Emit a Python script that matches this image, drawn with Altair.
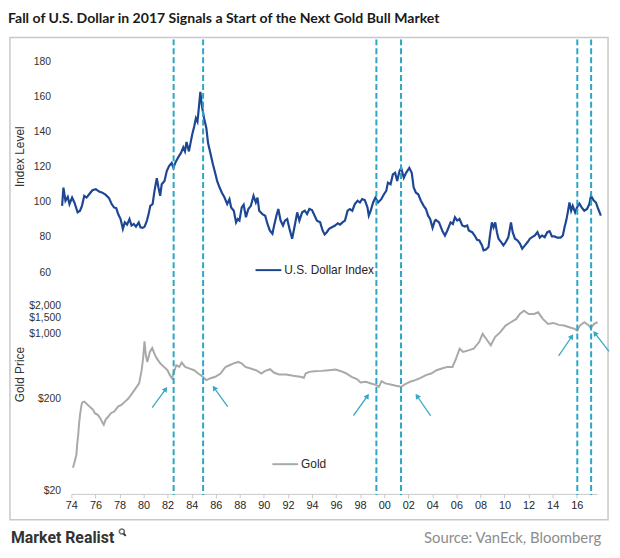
import altair as alt
import pandas as pd

# ---------------- data ----------------
dxy_year = [1973.23, 1973.34, 1973.51, 1973.70, 1973.84, 1974.06, 1974.25, 1974.52, 1974.72, 1974.88,
            1975.07, 1975.26, 1975.48, 1975.75, 1976.03, 1976.30, 1976.58, 1976.86, 1977.13, 1977.35,
            1977.54, 1977.73, 1977.89, 1978.09, 1978.28, 1978.44, 1978.63, 1978.83, 1979.00, 1979.19,
            1979.37, 1979.60, 1979.74, 1979.93, 1980.09, 1980.28, 1980.42, 1980.56, 1980.75, 1980.91,
            1981.10, 1981.24, 1981.38, 1981.51, 1981.74, 1981.93, 1982.12, 1982.34, 1982.48, 1982.67,
            1982.89, 1983.11, 1983.30, 1983.44, 1983.57, 1983.77, 1983.93, 1984.04, 1984.21, 1984.35,
            1984.48, 1984.59, 1984.72, 1984.86, 1985.03, 1985.22, 1985.36, 1985.58, 1985.77, 1985.91,
            1986.12, 1986.32, 1986.51, 1986.73, 1986.95, 1987.14, 1987.28, 1987.50, 1987.69, 1987.83,
            1987.97, 1988.16, 1988.32, 1988.51, 1988.71, 1988.92, 1989.14, 1989.33, 1989.47, 1989.61,
            1989.88, 1990.11, 1990.30, 1990.49, 1990.71, 1990.85, 1991.04, 1991.20, 1991.39, 1991.59,
            1991.75, 1991.94, 1992.13, 1992.35, 1992.54, 1992.77, 1992.95, 1993.18, 1993.40, 1993.59,
            1993.78, 1994.00, 1994.22, 1994.41, 1994.68, 1994.88, 1995.05, 1995.23, 1995.42, 1995.65,
            1995.92, 1996.14, 1996.33, 1996.53, 1996.74, 1996.96, 1997.15, 1997.35, 1997.56, 1997.79,
            1997.98, 1998.17, 1998.39, 1998.61, 1998.72, 1998.88, 1999.08, 1999.27, 1999.49, 1999.76,
            1999.98, 2000.17, 2000.31, 2000.53, 2000.72, 2000.91, 2001.08, 2001.27, 2001.41, 2001.63,
            2001.82, 2002.09, 2002.29, 2002.45, 2002.64, 2002.83, 2003.05, 2003.28, 2003.47, 2003.65,
            2003.82, 2004.02, 2004.21, 2004.29, 2004.56, 2004.84, 2005.05, 2005.25, 2005.52, 2005.71,
            2005.88, 2006.07, 2006.26, 2006.49, 2006.70, 2006.90, 2007.03, 2007.31, 2007.52, 2007.72,
            2007.91, 2008.13, 2008.26, 2008.46, 2008.67, 2008.81, 2008.95, 2009.09, 2009.23, 2009.37,
            2009.50, 2009.72, 2009.91, 2010.11, 2010.32, 2010.54, 2010.68, 2010.87, 2011.09, 2011.28,
            2011.47, 2011.70, 2011.92, 2012.11, 2012.30, 2012.52, 2012.74, 2012.93, 2013.12, 2013.34,
            2013.56, 2013.75, 2013.94, 2014.16, 2014.39, 2014.66, 2014.85, 2014.99, 2015.13, 2015.26,
            2015.40, 2015.54, 2015.67, 2015.87, 2016.03, 2016.22, 2016.41, 2016.63, 2016.86, 2017.05,
            2017.19, 2017.40, 2017.60, 2017.79, 2018.01]
dxy_value = [97.7, 108.1, 100.6, 102.8, 98.7, 102.4, 99.6, 94.0, 94.9, 97.7,
             103.4, 102.4, 104.3, 106.6, 107.2, 105.8, 105.2, 103.9, 102.1, 98.7,
             96.8, 96.4, 93.0, 90.2, 84.6, 88.3, 87.0, 90.2, 86.5, 87.4,
             85.9, 88.3, 85.5, 85.2, 85.9, 89.3, 93.0, 97.7, 98.7, 106.2,
             113.4, 108.1, 103.4, 110.0, 111.8, 117.5, 120.3, 122.1, 119.3, 122.7,
             125.4, 127.8, 131.0, 128.7, 134.0, 128.7, 134.4, 138.1, 142.8, 147.5,
             145.6, 153.1, 162.5, 154.1, 147.5, 141.9, 133.4, 126.9, 121.2, 117.5,
             111.8, 108.1, 105.2, 102.4, 98.7, 101.5, 96.8, 94.9, 88.3, 90.2,
             89.3, 96.8, 98.3, 91.2, 95.9, 97.7, 103.4, 99.6, 102.4, 94.9,
             93.0, 92.1, 87.4, 83.7, 81.8, 86.5, 92.1, 95.9, 89.3, 86.5,
             89.3, 90.2, 84.6, 79.0, 85.5, 94.0, 89.3, 94.0, 94.9, 93.0,
             95.9, 95.3, 92.1, 89.3, 88.3, 83.7, 81.4, 82.7, 84.6, 85.5,
             86.5, 87.8, 87.0, 88.3, 89.3, 94.9, 95.9, 94.9, 98.7, 100.6,
             99.6, 101.5, 101.0, 96.8, 92.1, 94.9, 99.6, 102.4, 99.6, 101.5,
             104.3, 106.2, 110.9, 110.0, 115.6, 116.5, 111.8, 117.5, 119.3, 113.7,
             116.5, 119.3, 116.5, 108.1, 105.2, 104.3, 100.6, 97.7, 95.9, 92.1,
             90.2, 85.2, 89.3, 89.7, 88.3, 83.3, 80.8, 83.7, 88.3, 87.4,
             91.2, 89.3, 90.2, 86.5, 85.9, 86.5, 83.7, 82.7, 80.8, 78.4,
             78.0, 75.2, 72.4, 72.8, 74.3, 81.8, 88.3, 85.5, 88.3, 82.7,
             79.0, 77.1, 75.2, 77.1, 79.9, 88.3, 82.7, 79.0, 78.0, 76.2,
             73.3, 75.2, 77.1, 79.0, 79.9, 80.8, 82.7, 79.6, 80.8, 79.9,
             82.7, 83.3, 80.3, 80.3, 79.6, 79.6, 80.8, 85.5, 89.3, 94.0,
             99.6, 94.9, 97.7, 94.0, 96.8, 99.0, 96.8, 94.9, 95.9, 98.7,
             103.4, 100.9, 99.6, 95.9, 92.1]

gold_year = [1974.13, 1974.25, 1974.42, 1974.48, 1974.57, 1974.63, 1974.72, 1974.84, 1974.92, 1975.07,
             1975.31, 1975.51, 1975.81, 1975.95, 1976.19, 1976.40, 1976.60, 1976.69, 1976.84, 1977.07,
             1977.28, 1977.57, 1977.87, 1978.16, 1978.46, 1978.75, 1979.05, 1979.34, 1979.63, 1979.84,
             1979.96, 1980.08, 1980.19, 1980.31, 1980.52, 1980.72, 1980.90, 1981.11, 1981.40, 1981.69,
             1981.99, 1982.19, 1982.37, 1982.49, 1982.72, 1982.96, 1983.17, 1983.46, 1983.84, 1984.20,
             1984.55, 1984.93, 1985.22, 1985.52, 1985.96, 1986.40, 1986.70, 1986.84, 1987.14, 1987.43,
             1987.87, 1988.17, 1988.46, 1988.90, 1989.35, 1989.79, 1990.08, 1990.52, 1990.82, 1991.26,
             1991.85, 1992.44, 1993.02, 1993.32, 1993.47, 1993.76, 1994.20, 1994.79, 1995.38, 1995.97,
             1996.41, 1996.85, 1997.29, 1997.73, 1998.03, 1998.47, 1998.91, 1999.35, 1999.56, 1999.79,
             2000.09, 2000.53, 2000.97, 2001.41, 2001.71, 2002.15, 2002.59, 2003.03, 2003.47, 2003.91,
             2004.35, 2004.79, 2005.24, 2005.68, 2005.97, 2006.27, 2006.56, 2007.00, 2007.44, 2007.89,
             2008.18, 2008.47, 2008.86, 2009.21, 2009.65, 2010.09, 2010.53, 2010.98, 2011.27, 2011.62,
             2012.01, 2012.45, 2012.80, 2013.18, 2013.62, 2014.07, 2014.51, 2014.95, 2015.39, 2015.83,
             2016.04, 2016.27, 2016.63, 2017.01, 2017.16, 2017.45, 2017.74]
gold_price = [35.6, 40.2, 49.4, 63.3, 81.0, 103.6, 132.6, 169.8, 181.3, 184.3,
              172.6, 162.9, 150.1, 138.2, 132.6, 122.2, 108.0, 103.6, 117.3, 127.3,
              138.2, 144.0, 162.9, 169.8, 184.3, 200.1, 226.4, 256.1, 289.8, 402.7,
              536.9, 823.7, 583.0, 494.7, 633.2, 698.8, 607.6, 536.9, 474.7, 437.3,
              402.7, 356.0, 327.9, 371.0, 455.6, 437.3, 486.5, 437.3, 419.5, 402.7,
              371.0, 341.6, 314.6, 327.9, 341.6, 371.0, 419.5, 437.3, 455.6, 474.7,
              494.7, 474.7, 437.3, 419.5, 402.7, 371.0, 392.9, 412.7, 380.2, 361.9,
              361.9, 350.1, 341.6, 333.3, 371.0, 386.5, 392.9, 396.1, 402.7, 409.3,
              392.9, 371.0, 341.6, 322.5, 297.1, 302.0, 289.8, 278.1, 266.9, 307.0,
              289.8, 282.8, 273.6, 266.9, 282.8, 302.0, 314.6, 333.3, 356.0, 371.0,
              402.7, 419.5, 437.3, 437.3, 536.9, 687.2, 633.2, 659.5, 687.2, 810.2,
              995.2, 879.8, 746.3, 916.7, 1037.2, 1222.7, 1327.4, 1441.3, 1630.6, 1770.5,
              1630.6, 1630.6, 1699.0, 1441.3, 1273.8, 1305.8, 1242.9, 1222.7, 1173.5, 1126.4,
              1081.0, 1222.7, 1327.4, 1222.7, 1145.0, 1273.8, 1327.4]

event_years = [1982.50, 1984.95, 1999.35, 2001.40, 2016.05, 2017.20]

arrow_tail_year = [1980.72, 1986.99, 1997.44, 2003.85, 2014.50, 2018.68]
arrow_tail_price = [159.0, 162.9, 130.5, 130.5, 574.0, 643.0]
arrow_head_year = [1981.84, 1985.87, 1998.61, 2002.73, 2015.59, 2017.51]
arrow_head_price = [252.0, 260.0, 212.0, 212.0, 931.0, 1012.0]
arrow_angle = [34, 326, 34, 326, 32, 324]

x_ticks = list(range(1974, 2017, 2))
dollar_ticks = [60, 80, 100, 120, 140, 160, 180]
gold_ticks = [20, 200, 1000, 1500, 2000]

title_text = "Fall of U.S. Dollar in 2017 Signals a Start of the Next Gold Bull Market"
brand_text = "Market Realist"
source_text = "Source: VanEck, Bloomberg"

# ---------------- frames ----------------
dxy_df = pd.DataFrame({"year": dxy_year, "value": dxy_value, "series": "U.S. Dollar Index"})
gold_df = pd.DataFrame({"year": gold_year, "price": gold_price, "series": "Gold"})
event_df = pd.DataFrame({"year": event_years})
arrow_df = pd.DataFrame({"ty": arrow_tail_year, "tp": arrow_tail_price,
                         "hy": arrow_head_year, "hp": arrow_head_price, "angle": arrow_angle})
one = pd.DataFrame({"a": [0]})

W, H = 604, 487
LABEL_FONT = "Liberation Sans"
TEAL = "#2ba6c6"
BLUE = "#1d4694"
GRAY = "#a9a9a9"

xscale = alt.Scale(domain=[1974, 2017.7], range=[62, 593], nice=False, zero=False)
dscale = alt.Scale(domain=[60, 180], range=[237, 24], nice=False, zero=False)
gscale = alt.Scale(type="log", domain=[20, 2000], range=[458, 271], nice=False)

xaxis = alt.Axis(values=x_ticks, labelExpr="slice(toString(datum.value), 2)", title=None,
                 offset=-26, grid=False, domainColor="#c8c8c8", tickColor="#c8c8c8",
                 tickSize=4, labelPadding=2, labelFont=LABEL_FONT, labelFontSize=11,
                 labelColor="#262626", labelFlush=False, labelOverlap=False)

dollar_line = alt.Chart(dxy_df).mark_line(strokeWidth=2.2, clip=False).encode(
    x=alt.X("year:Q", scale=xscale, axis=xaxis),
    y=alt.Y("value:Q", scale=dscale,
            axis=alt.Axis(orient="left", values=dollar_ticks, title="Index Level", offset=-41,
                          ticks=False, tickSize=0, domain=False, grid=False, labelPadding=0,
                          labelFont=LABEL_FONT, labelFontSize=10.5, labelColor="#333333",
                          titleFont=LABEL_FONT, titleFontSize=12, titleFontWeight="normal",
                          titleColor="#333333", titleX=-31, titleY=120, titleAngle=270,
                          titleAlign="center", titleBaseline="middle")),
    color=alt.Color("series:N", scale=alt.Scale(range=[BLUE]),
                    legend=alt.Legend(orient="none", legendX=247, legendY=221, title=None,
                                      symbolType="stroke", symbolSize=676, symbolStrokeWidth=2,
                                      labelOffset=2, labelFont=LABEL_FONT, labelFontSize=12,
                                      labelColor="#262626", padding=0)),
)

gold_line = alt.Chart(gold_df).mark_line(strokeWidth=2, clip=False).encode(
    x=alt.X("year:Q", scale=xscale, axis=xaxis),
    y=alt.Y("price:Q", scale=gscale,
            axis=alt.Axis(orient="left", values=gold_ticks, format="$,.0f", title="Gold Price",
                          offset=-51, ticks=False, tickSize=0, domain=False, grid=False,
                          labelPadding=0, labelFont=LABEL_FONT, labelFontSize=10.5,
                          labelColor="#333333", titleFont=LABEL_FONT, titleFontSize=12,
                          titleFontWeight="normal", titleColor="#333333", titleX=-41,
                          titleY=340, titleAngle=270, titleAlign="center",
                          titleBaseline="middle", labelOverlap=False)),
    color=alt.Color("series:N", scale=alt.Scale(range=[GRAY]),
                    legend=alt.Legend(orient="none", legendX=264, legendY=417, title=None,
                                      symbolType="stroke", symbolSize=676, symbolStrokeWidth=2,
                                      labelOffset=2, labelFont=LABEL_FONT, labelFontSize=12,
                                      labelColor="#262626", padding=0)),
)

events = alt.Chart(event_df).mark_rule(color=TEAL, strokeWidth=2, strokeDash=[6, 3]).encode(
    x=alt.X("year:Q", scale=xscale, axis=xaxis),
    y=alt.value(2), y2=alt.value(462),
)

arrow_shafts = alt.Chart(arrow_df).mark_rule(color="#3aa7c4", strokeWidth=1.3).encode(
    x=alt.X("ty:Q", scale=xscale, axis=xaxis), x2="hy:Q",
    y=alt.Y("tp:Q", scale=gscale, axis=None), y2="hp:Q",
)
arrow_heads = alt.Chart(arrow_df).mark_point(shape="triangle-up", filled=True, size=36,
                                             color="#3aa7c4", opacity=1).encode(
    x=alt.X("hy:Q", scale=xscale, axis=xaxis),
    y=alt.Y("hp:Q", scale=gscale, axis=None),
    angle=alt.Angle("angle:Q", scale=None),
)

brand = alt.Chart(one).mark_text(text=brand_text, align="left", baseline="alphabetic",
                                 font="Roboto", fontWeight="bold", fontSize=16,
                                 color="#333333").encode(x=alt.value(1), y=alt.value(511))
lens = alt.Chart(one).mark_point(shape="circle", size=26, filled=False, color="#333333",
                                 strokeWidth=1.6).encode(x=alt.value(113), y=alt.value(499))
lens_handle = alt.Chart(one).mark_rule(color="#333333", strokeWidth=1.8).encode(
    x=alt.value(114.5), x2=alt.value(117), y=alt.value(501), y2=alt.value(503.5))
source = alt.Chart(one).mark_text(text=source_text, align="right", baseline="alphabetic",
                                  font="Lato", fontSize=15, color="#8c8c8c").encode(
    x=alt.value(597), y=alt.value(511))

chart = alt.layer(
    dollar_line, gold_line, events, arrow_shafts, arrow_heads, brand, lens, lens_handle, source
).resolve_scale(
    y="independent", color="independent"
).properties(
    width=W, height=H,
    title=alt.Title(title_text, anchor="start", font="Lato", fontSize=14.2, fontWeight="bold",
                    color="#1a1a1a", offset=11, dx=-2),
    autosize=alt.AutoSizeParams(type="none"),
    padding={"left": 2, "top": 27, "right": 4, "bottom": 34},
).configure_view(
    stroke="#c8c8c8", strokeWidth=1.5
)

chart.save("out.html", embed_options={"renderer": "svg", "actions": False})
